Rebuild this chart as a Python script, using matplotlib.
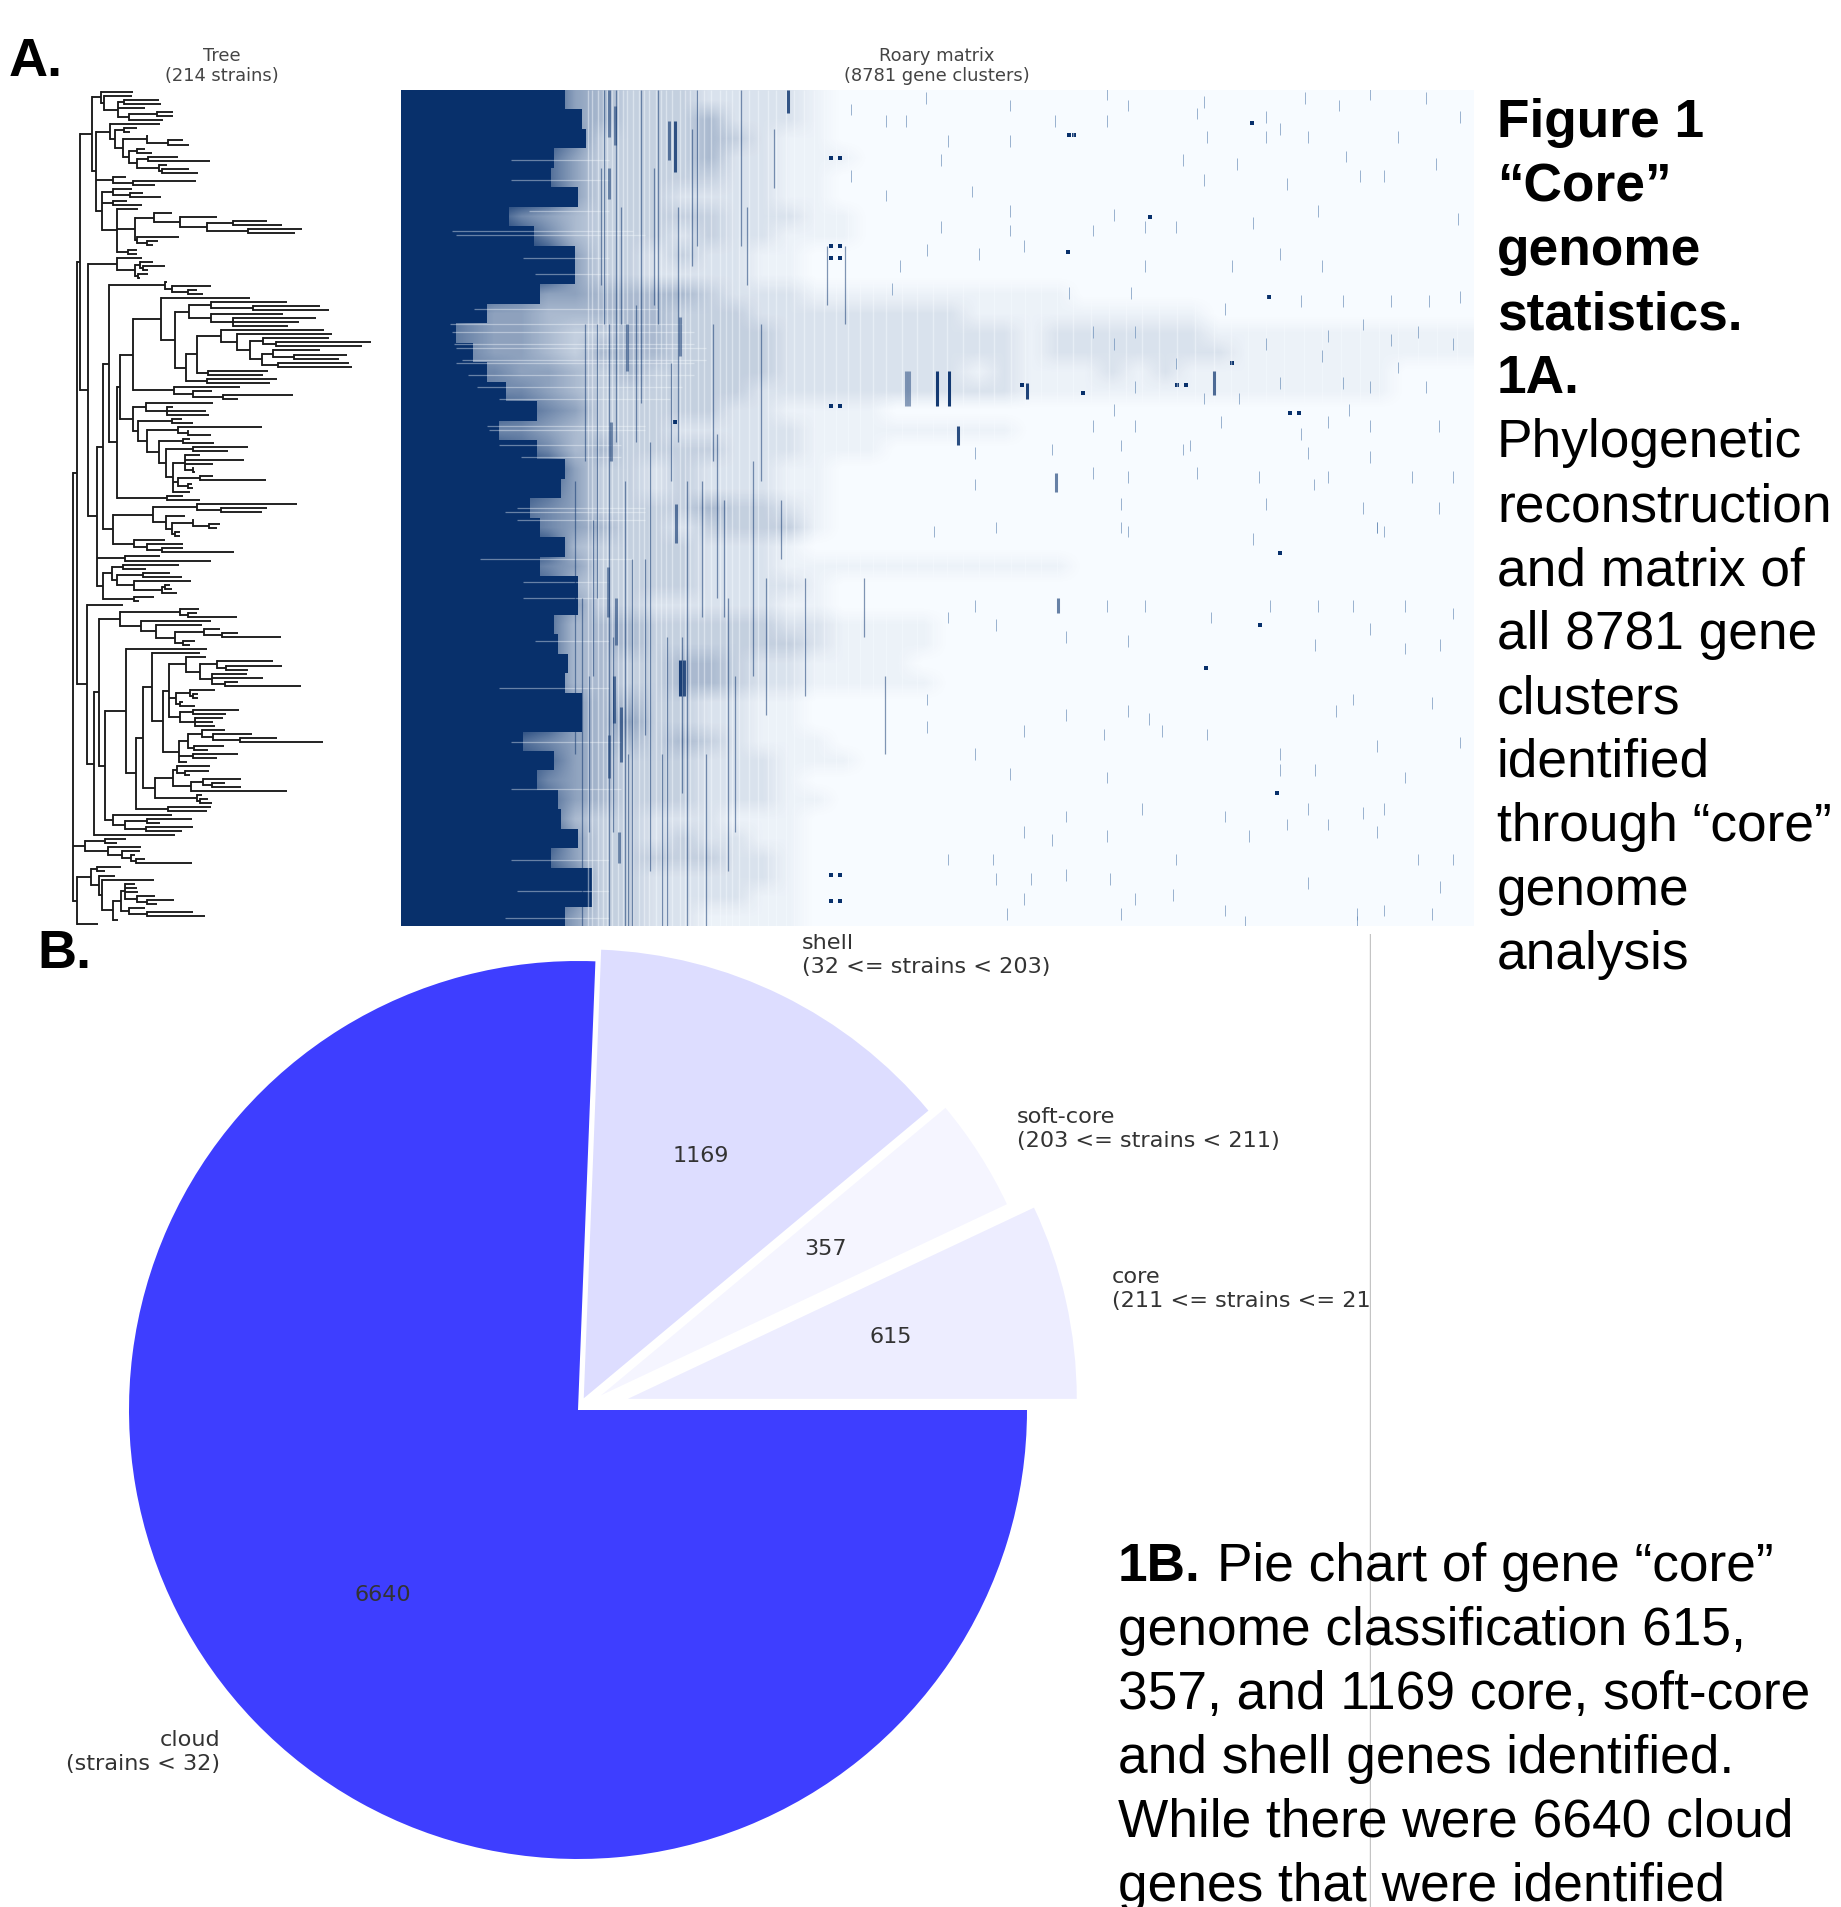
import numpy as np
from matplotlib import pyplot as plt
from matplotlib.colors import LinearSegmentedColormap, PowerNorm

W = 1841
H = 1908

# --- pie
pie_labels = ['core', 'soft-core', 'shell', 'cloud']
pie_ranges = ['(211 <= strains <= 214)', '(203 <= strains < 211)', '(32 <= strains < 203)', '(strains < 32)']
pie_values = [615, 357, 1169, 6640]

# --- tree, [node x, child, child, ...], a plain number is a tip
upper_tree = [240,
    [275,
        [302, 398, [312, 395, [355, [372, 478, 482], 435, [388, [472, 520, 520], 490]]]],
        [288,
            [330, 480, [345, [372, 410, 390], [370, [440, 445, [505, 550, 568]],
                [388, [410, 435, 455], [412, [445, 535, 630], [478, 500, [485, 568, 595]]]]]]],
            [340, 378, [400, 587, 465]],
            [305, [340, 395, [390, 430, 483]], [340, 380, 425],
                [352, 415, [405, [462, 515, [540, 650, [620, [700, 800, 845], [745, 905, 885]]]],
                    [410, 538, [440, 475, 460]]], [385, 410, 412]]]]],
    [265,
        [350, 425, [405, [420, 460, [430, 495, 445]], [415, 445, 420]]],
        [290,
            [310,
                [327,
                    [495, 500, [515, 633, [565, 590, 610]]],
                    [350,
                        [360,
                            [400,
                                [482, 750, [525,
                                    [568, [632, 860, [760, 960, 988]], [632, 850, [698, 948, 898, 865]]],
                                    [558, [590, [622, [662, 972, [712, 995, [750, [790, 988, [828, 1113, 1085]],
                                        [785, [820, 960, [882, 1040, 1018]], [835, 1048, 1055]]]]]],
                                        [625, 805, 790]], [620, 830, 810]]]],
                                [522, 720, [578, 635, [670, 878, 715]]]],
                            [400,
                                [438, 638, [500, 520, 618, 628]],
                                [415, [515, 545, 580], [440, [535, 785, [565, 565, 632]],
                                    [478, [550, 570, 642], [498, [580, 745, 685],
                                        [520, [555, 600, 732, 640, [578, 580, 585]],
                                            [535, [600, 640, 798], [565, 575, 580]], 570]]]]]]],
                        [500, 550, 600]]],
                [340, [458, [592, 890, [662, 800, 785]], [497, 555, [515, [578, 580, [628, 660, 650]], [525, 540, 540]]]],
                    [402, 495, [440, 550, [485, 550, 702]]]]],
            [375, 480, 632],
            [310, [335, [368, 538, 438], [352, [430, 510, 545], [402, 573, [485, [495, 510, 515], [492, 532]]]]],
                [402, 463, 418]]]]]
middle_tree = [262, 370,
    [282,
        [298,
            [360, [540, 597, [565, 590, 710]], [422, 632, [468, 607, [525, [612, 660, [665, 715, 843]], [550, 585, 570]]]]],
            [315,
                [378, 622,
                    [408,
                        [430,
                            [455, 600,
                                [490,
                                    [508, [558, 618, [600, [650, 820, [678, 847, 745]], [635, 740, 790, [675, 715, 903]]]],
                                        [528, [570, 645, [580, 595, 595]], [540, 548, 585]],
                                        [540, [578, 716, 678], [585, 670, 640, 645]]],
                                    [538, [565, [605, 675, [640, 757, [720, 830, 968]]], [582, 672, 625]], [578, 715, 650], 562]]],
                            [465, [520, [530, 630, [555, 628, 570]], [572, [608, 722, [635, 675, 722]], 860]],
                                [590, 605, [600, 625, 635]]]],
                        [505, 632, 622]]],
                [340, 515, [375, [442, 577, 480], [438, 578, 545]]]]],
        525]]
root_tree = [218,
    [232, upper_tree, middle_tree],
    [255, [315, 378, 350], [325, 422, [365, 420, [392, 405, [408, 435, 577]]]]],
    [230, [272, [292, 362, 315], [298, 345, [305, 462, [340, [362, [375, 405, 412, 415, [412, 465, [442, 523, 470]]],
        [388, 435, [442, 580, 615]]], 355]]]], 295]]

# --- roary matrix in bands of 5 strains
core_end = [1340, 1480, 1510, 1255, 1225, 1450, 885, 1085, 1425, 1425, 1140, 700, 450, 590, 700, 860, 1115, 800,
            1115, 1340, 1310, 1055, 1140, 1340, 1140, 1450, 1450, 1255, 1285, 1370, 1340, 1480, 1480, 1000, 1255,
            1115, 1285, 1310, 1450, 1225, 1565, 1565, 1340]
density = [
    "9999985433322221000000000000000000000000",
    "9999985433342221000000000000000000000000",
    "9999986333343211000000000000000000000000",
    "9999875333342211100000000000000000000000",
    "9999875333332211000000000000000000000000",
    "9999985333222211000000000000000000000000",
    "9998654333332221100000000000000000000000",
    "9999864333232211100000000000000000000000",
    "9999985332322110000000000000000000000000",
    "9999985332222110000000000000000000000000",
    "9987655444432221111111111000000000000000",
    "9865544444333222222221111111110000000000",
    "9765543344333322222222212222221111111111",
    "9765543444333322222222212222222111111111",
    "9766554343333322222221211121211111111000",
    "9876654333333222222222211111111111111000",
    "9998765333332211110000000000000000000000",
    "9876654333222221111111100000000000000000",
    "9998764433332221110000000000000000000000",
    "9999985332322211000000000000000000000000",
    "9999875332322211000000000000000000000000",
    "9998765333343321000000000000000000000000",
    "9998765433233331000000000000000000000000",
    "9999984333322210000000000000000000000000",
    "9998765333322211111111111000000000000000",
    "9999874333322221000000000000000000000000",
    "9999875332222211000000000000000000000000",
    "9999874443333322111100000000000000000000",
    "9999874443333332111100000000000000000000",
    "9999874433443221111000000000000000000000",
    "9999874433443221111100000000000000000000",
    "9999985443322110000000000000000000000000",
    "9999985453322110000000000000000000000000",
    "9998765443432111000000000000000000000000",
    "9999875433322211100000000000000000000000",
    "9999865433322210000000000000000000000000",
    "9999875433322211000000000000000000000000",
    "9999874332221110000000000000000000000000",
    "9999985332322110000000000000000000000000",
    "9999875333332210000000000000000000000000",
    "9999986332222210000000000000000000000000",
    "9999986332222110000000000000000000000000",
    "9999875332211110000000000000000000000000",
]

# dark spots (gene cluster, strain)
spot_genes = [3518, 3590, 3518, 3590, 3518, 3590, 3518, 3590, 3518, 3590, 3518, 3590, 5470, 5460, 6127, 7100, 6961,
              6347, 6427, 7272, 7350, 7190, 7033, 6585, 7170, 5080, 5579, 5506, 2240, 6800]
spot_strains = [17.5, 17.5, 40, 40, 43, 43, 81, 81, 201, 201, 207.5, 207.5, 11.6, 41.5, 32.5, 53, 8.5, 75.5, 75.5,
                82.7, 82.7, 118.5, 137, 148, 180, 75.5, 77.5, 11.5, 85, 70]
# tall dark bars (gene cluster, first strain, last strain)
bar_genes = [4131, 4160, 4385, 4483, 4556, 5358, 5375, 3166, 2192, 2240, 2280, 2250, 2315, 5120, 6650,
             1700, 1750, 1700, 1720, 1690, 1760, 1740, 1800, 1700, 1780, 2280, 1850]
bar_start = [72, 72, 72, 72, 86, 98, 130, 0, 8, 8, 146, 106, 146, 75, 72,
             0, 4, 20, 85, 122, 130, 150, 158, 165, 190, 58, 60]
bar_end = [81, 81, 81, 81, 91, 103, 134, 6, 18, 21, 155, 116, 155, 79, 78,
           12, 14, 28, 95, 135, 142, 162, 172, 176, 198, 68, 72]
bar_alpha = [0.45, 0.45, 0.95, 0.95, 0.85, 0.6, 0.6, 0.8, 0.6, 0.8, 0.9, 0.6, 0.8, 0.9, 0.7,
             0.5, 0.5, 0.5, 0.5, 0.5, 0.5, 0.6, 0.6, 0.5, 0.5, 0.5, 0.5]
# dark streaks in the shell genes
stripe_genes = [1420, 1480, 1540, 1600, 1660, 1700, 1760, 1830, 1890, 1960, 2040, 2100, 2180, 2270, 2340, 2420,
                2500, 2590, 2680, 2780, 2880, 2990, 3110, 3310, 3490, 3630, 3790, 3960, 1505, 1570, 1640, 1735,
                1800, 1860, 1925, 2000, 2070, 2140, 2210, 2300, 2380, 2460, 2550, 2640, 2730, 2830, 2950, 3050]
stripe_start = [100, 130, 150, 60, 0, 60, 0, 100, 120, 0, 90, 0, 140, 30, 100, 0, 170, 88, 130, 0, 95, 125, 105,
                125, 40, 40, 125, 150, 60, 110, 20, 140, 30, 170, 55, 120, 20, 170, 70, 140, 10, 100, 60, 105, 150,
                30, 60, 10]
stripe_end = [170, 214, 190, 130, 60, 214, 90, 214, 214, 80, 200, 60, 214, 90, 214, 40, 214, 130, 200, 40, 150, 160,
              120, 155, 55, 60, 140, 170, 95, 150, 50, 190, 60, 214, 90, 165, 55, 214, 100, 180, 45, 135, 95, 135,
              190, 50, 100, 25]
# gaps, white vertical lines across the streaks
gap_genes = [1530, 1565, 1610, 1650, 1685, 1725, 1775, 1815, 1850, 1900, 1945, 1985, 2030,
             2085, 2125, 2170, 2220, 2285, 2325, 2365, 2430, 2480, 2535, 2610, 2660, 2710, 2770, 2850, 2920, 3000,
             3070, 3150, 3220, 3300, 3380, 3460, 3560, 3660, 3760, 3860, 3970, 4100, 4220, 4350, 4470, 4600, 4730,
             4850, 4990, 5110, 5240, 5370, 5500, 5650, 5790, 5930, 6060, 6200, 6350, 6500, 6650, 6790, 6930, 7080,
             7230, 7390, 7540, 7690, 7850, 8000, 8160, 8320, 8480, 8640]
# strains whose genes thin out left of the shell block
thin_strains = [18, 23, 31, 36, 37, 43, 47, 56, 60, 62, 65, 66, 69, 70, 73, 76, 79, 86, 87, 91, 94, 107, 108, 110,
                120, 126, 130, 141, 153, 167, 179, 197, 205, 212]
thin_from = [900, 900, 1050, 420, 450, 1000, 1100, 600, 400, 420, 430, 450, 500, 450, 550, 620, 800, 700, 720, 800,
             980, 950, 850, 950, 650, 1000, 1000, 1100, 800, 900, 900, 900, 950, 850]
thin_to = [1700, 1700, 1700, 1900, 2000, 1700, 1700, 2100, 2300, 2400, 2400, 2500, 2500, 2400, 2400, 2300, 2200,
           2000, 2000, 1800, 1800, 2000, 2000, 2000, 1900, 1700, 1700, 1700, 1700, 1800, 1800, 1700, 1700, 1700]
# lone ticks, read from the upper and lower half
tick_genes_up = [3680, 4300, 4985, 5775, 5950, 6570, 7395, 7675, 7930, 8385, 5775, 6515, 7080, 8670, 5350, 7195,
                 7420, 4475, 4985, 6600, 7080, 8160, 3965, 4135, 4420, 6400, 6845, 7730, 8470, 4675, 6570, 7250,
                 8045, 7845, 3965, 3680, 5835, 6970, 7505, 8650, 6345, 4985, 4420, 4985, 5665, 6090, 7195, 7535,
                 6800, 6090, 4305, 5100, 4730, 4080, 5465, 5975, 4020, 8670, 8410, 8100, 7705, 7365, 6740, 5665,
                 5835, 6005, 7080, 7590, 7875, 8100, 8325, 8610, 7535, 8160, 6345, 7195, 7705, 7930, 8385, 6005,
                 6570, 6855, 5835, 7760, 7590, 5665, 6005, 6710, 7365, 7930, 8495, 6400, 5325, 5890, 7420, 6460,
                 7930, 4700, 5950, 5665, 6515, 7025, 7590, 8270, 8610, 4700, 7475, 5890, 7080, 7875, 8495, 7985,
                 5950, 6970, 8045]
tick_strains_up = [5, 2, 4, 1, 4, 3, 2, 4, 1, 2, 8, 6, 7, 7, 8, 10, 12, 13, 13, 12, 12, 12, 8, 8, 18, 18, 19, 17,
                   19, 26, 23, 24, 22, 22, 27, 22, 32, 34, 31, 33, 35, 31, 35, 36, 36, 35, 42, 45, 45, 45, 41, 40,
                   42, 45, 52, 52, 51, 53, 54, 54, 54, 54, 56, 62, 65, 62, 65, 63, 60, 64, 62, 65, 68, 71, 70, 75,
                   75, 76, 76, 76, 79, 79, 82, 82, 85, 86, 86, 85, 88, 86, 86, 92, 92, 91, 93, 91, 94, 93, 99, 98,
                   98, 99, 99, 99, 99, 101, 101, 106, 106, 107, 107, 112, 113, 115, 113]
tick_genes_low = [4360, 4870, 5890, 7985, 4700, 5775, 6090, 7110, 7505, 7790, 8215, 4475, 6630, 7930, 8610, 4870,
                  5950, 7480, 8215, 8500, 5440, 4305, 7790, 8440, 5950, 7650, 5440, 6120, 4305, 5100, 5750, 6600,
                  6230, 8670, 7985, 7195, 4700, 7195, 7480, 8215, 4985, 5775, 6060, 7875, 5440, 6740, 7420, 8045,
                  5100, 7590, 7985, 7250, 5775, 5325, 6940, 6345, 4845, 8325, 8610, 4475, 5155, 5440, 5805, 4870,
                  7420, 8500, 6315, 5100, 6005, 5890, 4960, 6740, 7820, 8045, 8440, 6910, 7820]
tick_strains_low = [113, 112, 112, 112, 132, 132, 132, 132, 132, 132, 132, 135, 135, 138, 134, 137, 141, 142, 143,
                    142, 140, 156, 156, 157, 159, 159, 160, 161, 163, 164, 165, 165, 164, 167, 168, 170, 170, 174,
                    174, 176, 175, 176, 184, 185, 186, 186, 184, 184, 190, 188, 190, 188, 191, 192, 191, 197, 197,
                    197, 197, 197, 202, 201, 202, 202, 203, 204, 206, 207, 207, 211, 211, 210, 211, 210, 211, 213, 213]


def px_axes(x0, y0, x1, y1):
    # axes given in picture pixels, y from the top
    return fig.add_axes([x0 / W, 1 - y1 / H, (x1 - x0) / W, (y1 - y0) / H])


def draw_node(ax, node, state):
    # returns y of this node, tips numbered from the top
    if not isinstance(node, list):
        state['n'] += 1
        return state['n'] - 1
    x = node[0]
    ys = []
    for child in node[1:]:
        y = draw_node(ax, child, state)
        child_x = child[0] if isinstance(child, list) else child
        ax.plot([x, child_x], [y, y], color='#1a1a1a', lw=1.35, solid_capstyle='butt')
        ys.append(y)
    ax.plot([x, x], [ys[0], ys[-1]], color='#1a1a1a', lw=1.35, solid_capstyle='projecting')
    return (ys[0] + ys[-1]) / 2


fig = plt.figure(figsize=(W / 100, H / 100), dpi=100, facecolor='white')

# tree
tree_ax = px_axes(0, 91, 400, 927)
state = {'n': 0}
draw_node(tree_ax, root_tree, state)
print('tips', state['n'])
tree_ax.set_xlim(0, 1200)
tree_ax.set_ylim(state['n'] - 0.5, -0.5)
tree_ax.axis('off')

# matrix
navy = '#08306b'
mat_ax = px_axes(401, 91, 1474, 927)
grid = np.array([[int(c) for c in row] for row in density]) / 9
cmap = LinearSegmentedColormap.from_list('matrix', ['#f7fbff', navy])
mat_ax.imshow(grid, cmap=cmap, norm=PowerNorm(1.4, vmin=0, vmax=1), aspect='auto', interpolation='bilinear',
              extent=(0, 8781, 214, 0))
band_edges = np.arange(len(core_end) + 1) * 214 / len(core_end)
mat_ax.fill_betweenx(band_edges, 0, core_end + core_end[-1:], step='post', color=navy, lw=0)
mat_ax.hlines(thin_strains, thin_from, thin_to, color='#f7fbff', lw=0.9, alpha=0.4)
mat_ax.vlines(gap_genes, 0, 214, color='#f7fbff', lw=1.0, alpha=0.45)
mat_ax.vlines(stripe_genes, stripe_start, stripe_end, color=navy, lw=0.9, alpha=0.5)
mat_ax.vlines(tick_genes_up + tick_genes_low,
              np.array(tick_strains_up + tick_strains_low) - 1.5,
              np.array(tick_strains_up + tick_strains_low) + 1.5, color='#5b82b0', lw=0.6, alpha=0.7)
for i in range(len(bar_genes)):
    mat_ax.vlines(bar_genes[i], bar_start[i], bar_end[i], color=navy, lw=2.2, alpha=bar_alpha[i])
mat_ax.scatter(spot_genes, spot_strains, marker='s', s=8, color=navy, lw=0)
mat_ax.set_xlim(0, 8781)
mat_ax.set_ylim(214, 0)
mat_ax.axis('off')

# pie, the pasted picture stops at the grey line
pie_ax = px_axes(0, 935, 1371, 1908)
colors = [(0, 0, 1, v / sum(pie_values)) for v in pie_values]
pie_ax.pie(pie_values, explode=[51, 27, 13, 0], colors=colors, startangle=0, radius=449, center=(578, 497),
           wedgeprops={'linewidth': 0})
pie_ax.set_xlim(0, 1371)
pie_ax.set_ylim(0, 973)
pie_ax.set_aspect('auto')
pie_ax.axis('off')
pie_ax.axvline(1370, color='#c4c4c4', lw=1)

txt = '#333333'
label_x = [1112, 1017, 802, 220]
label_y = [1289, 1129, 955, 1752]
label_ha = ['left', 'left', 'left', 'right']
for i in range(4):
    pie_ax.text(label_x[i], H - label_y[i], pie_labels[i] + '\n' + pie_ranges[i], ha=label_ha[i], va='center',
                fontsize=16.1, color=txt, multialignment=label_ha[i], clip_on=True)
value_x = [891, 826, 701, 383]
value_y = [1337, 1249, 1156, 1595]
for i in range(4):
    pie_ax.text(value_x[i], H - value_y[i], str(pie_values[i]), ha='center', va='center', fontsize=16, color=txt)

# headers
fig.text(222 / W, 1 - 66 / H, 'Tree\n(214 strains)', ha='center', va='center', fontsize=12.9, color='#444444')
fig.text(937 / W, 1 - 66 / H, 'Roary matrix\n(8781 gene clusters)', ha='center', va='center', fontsize=12.9,
         color='#444444')

# panel letters and caption
arial = 'Liberation Sans'
fig.text(9 / W, 1 - 76 / H, 'A.', fontsize=39, fontweight='bold', family=arial)
fig.text(37 / W, 1 - 968 / H, 'B.', fontsize=39, fontweight='bold', family=arial)

caption_a = ['Figure 1', '“Core”', 'genome', 'statistics.', '1A.', 'Phylogenetic', 'reconstruction', 'and matrix of',
             'all 8781 gene', 'clusters', 'identified', 'through “core”', 'genome', 'analysis']
caption_a_bold = [True, True, True, True, True, False, False, False, False, False, False, False, False, False]
for i, line in enumerate(caption_a):
    fig.text(1497 / W, 1 - (137 + 64 * i) / H, line, fontsize=38.3, family=arial,
             fontweight='bold' if caption_a_bold[i] else 'normal')

caption_b = ['Pie chart of gene “core”', 'genome classification 615,', '357, and 1169 core, soft-core',
             'and shell genes identified.', 'While there were 6640 cloud', 'genes that were identified']
fig.text(1118 / W, 1 - 1581 / H, '1B.', fontsize=38.3, family=arial, fontweight='bold')
fig.text(1217 / W, 1 - 1581 / H, caption_b[0], fontsize=38.3, family=arial)
for i, line in enumerate(caption_b[1:]):
    fig.text(1118 / W, 1 - (1645 + 64 * i) / H, line, fontsize=38.3, family=arial)

plt.savefig('out.png', dpi=100)
